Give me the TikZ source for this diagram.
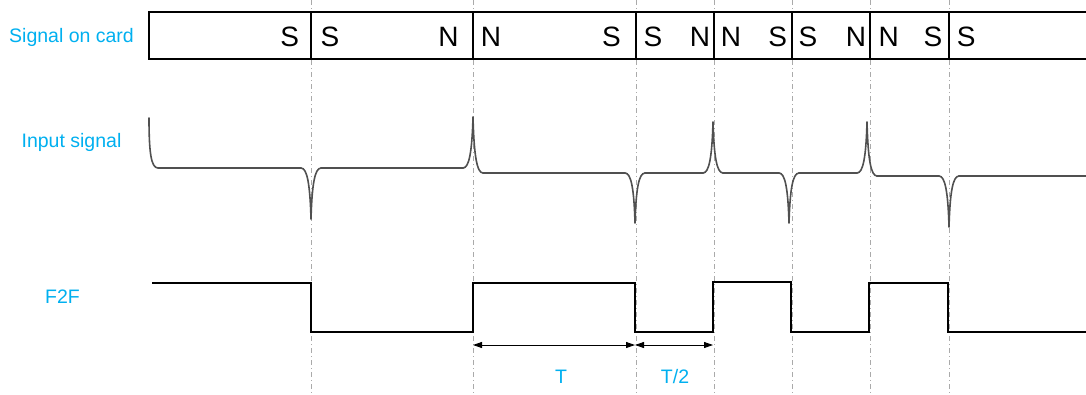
\documentclass[tikz,border=0pt]{standalone}
\usepackage{fontspec}
\setmainfont{Liberation Sans}
\usetikzlibrary{arrows.meta}
\definecolor{lblue}{RGB}{0,176,240}
\definecolor{sgray}{RGB}{80,80,80}
\definecolor{dgray}{RGB}{170,170,170}
\tikzset{
  lbl/.style={text=lblue,font=\fontsize{19.5}{22}\selectfont,inner sep=0pt},
  pole/.style={text=black,font=\fontsize{28}{30}\selectfont,inner sep=0pt},
  guide/.style={dgray,line width=0.7pt,dash pattern=on 5pt off 3pt on 1pt off 3pt},
  bar/.style={black,line width=1.6pt},
  sig/.style={sgray,line width=1.6pt,line cap=round,line join=round},
  f2f/.style={black,line width=2pt,line join=miter},
  dim/.style={black,line width=0.9pt,{Triangle[length=9pt,width=6pt]}-{Triangle[length=9pt,width=6pt]}}
}
% cusp: #1 = x of tip, #2 = left base, #3 = tip y, #4 = right base
\newcommand\cusp[4]{%
  \draw[sig] (#1-10,#2) .. controls (#1-4,#2) and ({#1-1},{#2+0.3*(#3-#2)}) .. (#1,#3)
    .. controls ({#1+1},{#4+0.3*(#3-#4)}) and (#1+4,#4) .. (#1+10,#4);}
\begin{document}
\begin{tikzpicture}[x=1pt,y=-1pt]
\path[use as bounding box,fill=white] (0,0) rectangle (1086,394);
% guide lines
\foreach \gx in {311,473,636,714,792,870,949}
  \draw[guide] (\gx,0) -- (\gx,394);
% top bar
\fill[white] (149,12) rectangle (1086,59);
\draw[bar] (1087,12) -- (149,12) -- (149,59) -- (1087,59);
\foreach \gx in {311,473,636,714,792,870,949}
  \draw[bar] (\gx,12) -- (\gx,59);
% labels
\node[lbl] (lcard) at (71.5,37) {Signal on card};
\node[lbl] (linput) at (71.5,142) {Input signal};
\node[lbl] (lf2f) at (62.5,297) {F2F};
% poles
\node[pole] (p1) at (289.7,37) {S};
\node[pole] (p2) at (330,37) {S};
\node[pole] (p3) at (448.5,37) {N};
\node[pole] (p4) at (491,37) {N};
\node[pole] (p5) at (611.5,37) {S};
\node[pole] (p6) at (653,37) {S};
\node[pole] (p7) at (700,37) {N};
\node[pole] (p8) at (731,37) {N};
\node[pole] (p9) at (777.7,37) {S};
\node[pole] (p10) at (808,37) {S};
\node[pole] (p11) at (856,37) {N};
\node[pole] (p12) at (888.6,37) {N};
\node[pole] (p13) at (933,37) {S};
\node[pole] (p14) at (966.3,37) {S};
% input signal
\draw[sig] (149,118) .. controls (149,152) and (151,168) .. (158,168) -- (301,168);
\cusp{311}{168}{219}{168}
\draw[sig] (321,168) -- (463,168);
\cusp{473}{168}{117}{173}
\draw[sig] (483,173) -- (625,173);
\cusp{635}{173}{223}{173}
\draw[sig] (645,173) -- (703,173);
\cusp{713}{173}{122}{173}
\draw[sig] (723,173) -- (779,173);
\cusp{789}{173}{223}{173}
\draw[sig] (799,173) -- (857,173);
\cusp{867}{173}{122}{176}
\draw[sig] (877,176) -- (939,176);
\cusp{949}{176}{227}{176}
\draw[sig] (959,176) -- (1086,176);
% F2F
\draw[f2f] (152,283) -- (311,283) -- (311,332) -- (473,332) -- (473,283) -- (635,283)
  -- (635,332) -- (713,332) -- (713,282) -- (791,282) -- (791,332) -- (869,332)
  -- (869,283) -- (948,283) -- (948,332) -- (1086,332);
% dimensions
\coordinate (d0) at (473,345);
\coordinate (d1) at (635,345);
\coordinate (d2) at (713,345);
\draw[dim] (d0) -- (d1);
\draw[dim] (d1) -- (d2);
\node[lbl] (tT) at (561,377) {T};
\node[lbl] (tT2) at (675,377) {T/2};
\end{tikzpicture}
\end{document}
